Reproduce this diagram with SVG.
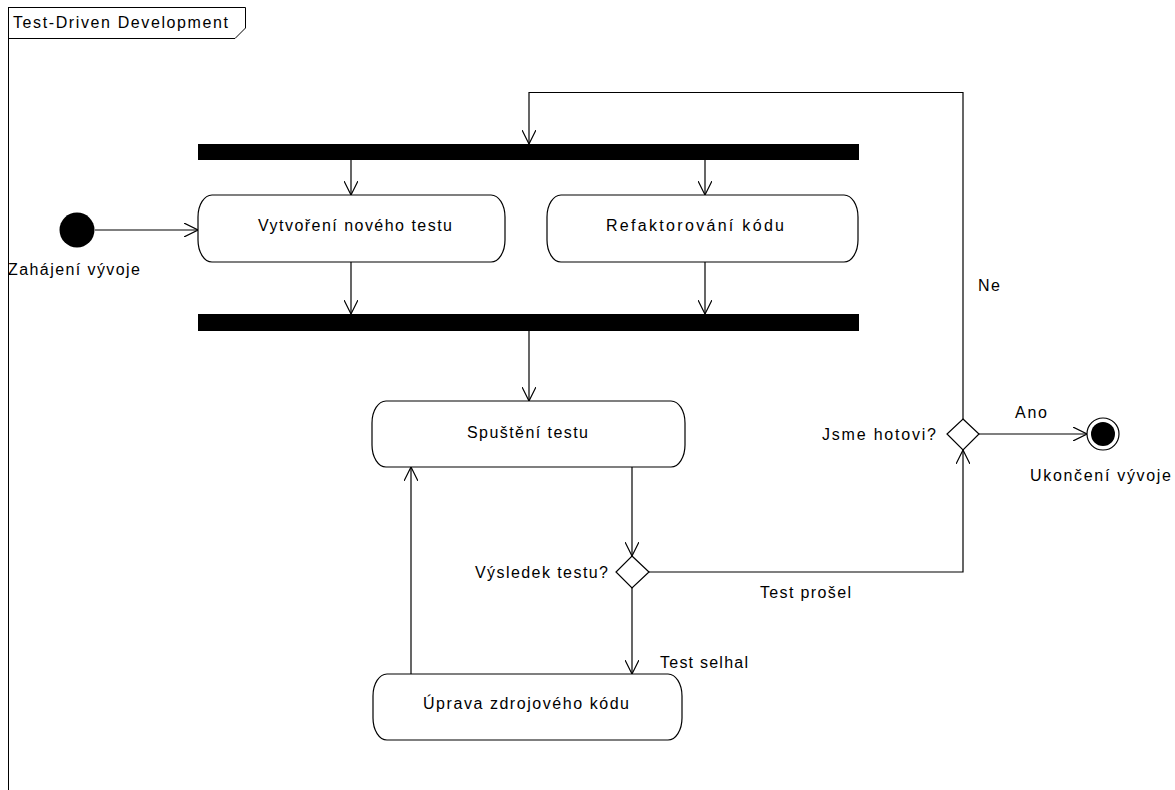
<svg xmlns="http://www.w3.org/2000/svg" width="1175" height="790" viewBox="0 0 1175 790">
<defs>
<marker id="arr" viewBox="0 0 14 14" refX="14" refY="7" markerWidth="14" markerHeight="14" markerUnits="userSpaceOnUse" orient="auto">
<path d="M0,0 L14,7 L0,14" fill="none" stroke="#000" stroke-width="1.2"/>
</marker>
<style>
text{font-family:"Liberation Sans",Arial,sans-serif;font-size:16px;fill:#000}
.act{fill:#fff;stroke:#000;stroke-width:1.2}
.bar{fill:#000}
.c{fill:none;stroke:#000;stroke-width:1.2}
.ca{fill:none;stroke:#000;stroke-width:1.2;marker-end:url(#arr)}
.dec{fill:#fff;stroke:#000;stroke-width:1.2}
</style>
</defs>
<rect width="1175" height="790" fill="#fff"/>
<g id="frame">
<line x1="8.5" y1="7" x2="8.5" y2="790" stroke="#000" stroke-width="1"/>
<path d="M8.5,7.5 H245.5 V28 L235,38.5 H8.5" fill="none" stroke="#000" stroke-width="1"/>
<text x="13" y="28" textLength="215" lengthAdjust="spacing">Test-Driven Development</text>
</g>
<g id="connectors">
<line class="ca" x1="95" y1="230" x2="198" y2="230"/>
<line class="ca" x1="351" y1="160" x2="351" y2="195"/>
<line class="ca" x1="705" y1="160" x2="705" y2="195"/>
<line class="ca" x1="351" y1="262" x2="351" y2="314"/>
<line class="ca" x1="705" y1="262" x2="705" y2="314"/>
<line class="ca" x1="529" y1="331" x2="529" y2="401"/>
<line class="ca" x1="632" y1="467" x2="632" y2="556"/>
<line class="ca" x1="632" y1="588" x2="632" y2="674"/>
<line class="ca" x1="411" y1="674" x2="411" y2="467"/>
<polyline class="ca" points="649,572 963,572 963,450"/>
<polyline class="ca" points="963,419 963,92.5 529,92.5 529,144"/>
<line class="ca" x1="979" y1="434" x2="1087" y2="434"/>
<text x="660" y="668" textLength="88" lengthAdjust="spacing">Test selhal</text>
<text x="760" y="598" textLength="91" lengthAdjust="spacing">Test prošel</text>
<text x="978" y="291" textLength="22" lengthAdjust="spacing">Ne</text>
<text x="1015" y="418" textLength="32" lengthAdjust="spacing">Ano</text>
</g>
<g id="initial">
<circle cx="77" cy="230" r="17.5" fill="#000"/>
<text x="8" y="275" textLength="132" lengthAdjust="spacing">Zahájení vývoje</text>
</g>
<g id="fork">
<rect class="bar" x="198" y="144" width="661" height="16"/>
</g>
<g id="join">
<rect class="bar" x="198" y="314" width="661" height="17"/>
</g>
<g id="vytvoreni">
<rect class="act" x="198" y="195" width="307" height="67" rx="14" ry="22"/>
<text x="258" y="231" textLength="194" lengthAdjust="spacing">Vytvoření nového testu</text>
</g>
<g id="refaktorovani">
<rect class="act" x="547" y="195" width="311" height="67" rx="14" ry="22"/>
<text x="606" y="231" textLength="178" lengthAdjust="spacing">Refaktorování kódu</text>
</g>
<g id="spusteni">
<rect class="act" x="372" y="401" width="313" height="66" rx="14" ry="22"/>
<text x="467" y="438" textLength="121" lengthAdjust="spacing">Spuštění testu</text>
</g>
<g id="uprava">
<rect class="act" x="373" y="674" width="309" height="66" rx="14" ry="22"/>
<text x="423" y="709" textLength="206" lengthAdjust="spacing">Úprava zdrojového kódu</text>
</g>
<g id="vysledek">
<polygon class="dec" points="632,556 649,572 632,588 616,572"/>
<text x="475" y="578" textLength="133" lengthAdjust="spacing">Výsledek testu?</text>
</g>
<g id="hotovi">
<polygon class="dec" points="963,419 979,434 963,450 947,434"/>
<text x="822" y="440" textLength="114" lengthAdjust="spacing">Jsme hotovi?</text>
</g>
<g id="final">
<circle cx="1103" cy="434" r="16" fill="#fff" stroke="#000" stroke-width="1.2"/>
<circle cx="1103" cy="434" r="12" fill="#000"/>
<text x="1030" y="481" textLength="141" lengthAdjust="spacing">Ukončení vývoje</text>
</g>
</svg>
